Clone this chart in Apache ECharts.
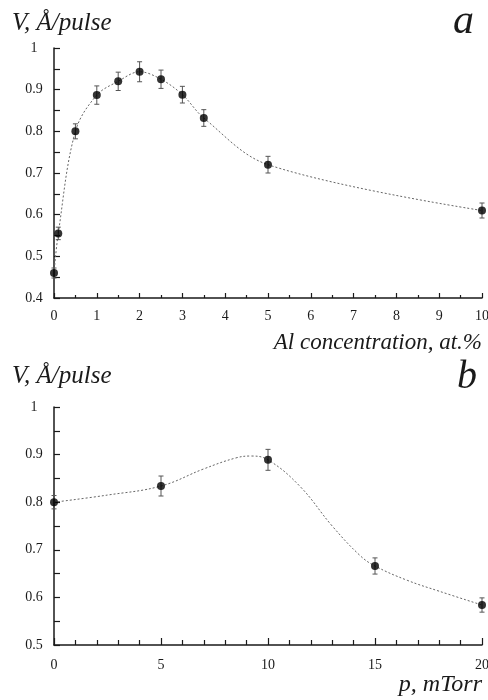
<!DOCTYPE html>
<html>
<head>
<meta charset="utf-8">
<script src="https://cdn.jsdelivr.net/npm/echarts@6/dist/echarts.min.js"></script>
<style>
  html, body { margin: 0; padding: 0; background: #fff; }
  #chart { width: 488px; height: 700px; }
</style>
</head>
<body>
<div id="chart"></div>
<script>
// panel a: growth rate vs Al concentration
const topX = [0, 0.1, 0.5, 1, 1.5, 2, 2.5, 3, 3.5, 5, 10];
const topV = [0.46, 0.555, 0.80, 0.887, 0.92, 0.943, 0.925, 0.888, 0.832, 0.72, 0.61];
const topErr = [0.012, 0.015, 0.018, 0.022, 0.022, 0.024, 0.022, 0.02, 0.02, 0.02, 0.018];

// panel b: growth rate vs pressure
const botX = [0, 5, 10, 15, 20];
const botV = [0.80, 0.834, 0.889, 0.666, 0.584];
const botErr = [0.014, 0.021, 0.022, 0.017, 0.015];
// dotted fit curve of panel b
const botFitX = [0, 2.5, 5, 7, 8.5, 9.2, 10, 11.5, 13, 14.3, 15, 16.5, 18, 20];
const botFitV = [0.80, 0.815, 0.834, 0.870, 0.893, 0.897, 0.889, 0.833, 0.750, 0.688, 0.666, 0.636, 0.613, 0.584];

const serif = '"Liberation Serif", "DejaVu Serif", serif';
const ink = '#1a1a1a';

const pair = (xs, ys) => xs.map((x, i) => [x, ys[i]]);
const triple = (xs, ys, es) => xs.map((x, i) => [x, ys[i], es[i]]);

function errorBar(params, api) {
  const x = api.value(0), y = api.value(1), e = api.value(2);
  const hi = api.coord([x, y + e]);
  const lo = api.coord([x, y - e]);
  const w = 2.5;
  const st = { stroke: '#555', lineWidth: 1 };
  return {
    type: 'group',
    children: [
      { type: 'line', shape: { x1: hi[0], y1: hi[1], x2: lo[0], y2: lo[1] }, style: st },
      { type: 'line', shape: { x1: hi[0] - w, y1: hi[1], x2: hi[0] + w, y2: hi[1] }, style: st },
      { type: 'line', shape: { x1: lo[0] - w, y1: lo[1], x2: lo[0] + w, y2: lo[1] }, style: st }
    ]
  };
}

const axisLine = { show: true, onZero: false, lineStyle: { color: ink, width: 1.5 } };
const labelStyle = { color: ink, fontFamily: serif, fontSize: 14 };

function yAxis(gridIndex, min) {
  return {
    type: 'value',
    gridIndex: gridIndex,
    min: min,
    max: 1,
    interval: 0.1,
    axisLine: axisLine,
    axisTick: { show: true, inside: true, length: 6, lineStyle: { color: ink, width: 1.2 } },
    minorTick: { show: true, splitNumber: 2, length: 6, lineStyle: { color: ink, width: 1.2 } },
    splitLine: { show: false },
    axisLabel: Object.assign({ align: 'center', margin: 20, formatter: v => String(+v.toFixed(2)) }, labelStyle)
  };
}

const chart = echarts.init(document.getElementById('chart'), null, { renderer: 'canvas' });

chart.setOption({
  animation: false,
  backgroundColor: '#fff',
  grid: [
    { left: 54, right: 6, top: 48, height: 250, outerBoundsMode: 'none' },
    { left: 54, right: 6, top: 407, height: 238, outerBoundsMode: 'none' }
  ],
  xAxis: [
    {
      type: 'value', gridIndex: 0, min: 0, max: 10, interval: 1,
      axisLine: axisLine,
      axisTick: { show: true, inside: true, length: 5, lineStyle: { color: ink, width: 1.2 } },
      minorTick: { show: true, splitNumber: 2, length: 3, lineStyle: { color: ink, width: 1.2 } },
      splitLine: { show: false },
      axisLabel: Object.assign({ margin: 11 }, labelStyle)
    },
    {
      type: 'value', gridIndex: 1, min: 0, max: 20, interval: 5,
      axisLine: axisLine,
      axisTick: { show: true, inside: true, length: 7, lineStyle: { color: ink, width: 1.2 } },
      minorTick: { show: true, splitNumber: 5, length: 5, lineStyle: { color: ink, width: 1.2 } },
      splitLine: { show: false },
      axisLabel: Object.assign({ margin: 13 }, labelStyle)
    }
  ],
  yAxis: [yAxis(0, 0.4), yAxis(1, 0.5)],
  graphic: [
    { type: 'text', left: 12, top: 11, style: { text: 'V, Å/pulse', font: 'italic 25px ' + serif, fill: ink } },
    { type: 'text', right: 14, top: 1, style: { text: 'a', font: 'italic 42px ' + serif, fill: ink } },
    { type: 'text', right: 6, top: 331, style: { text: 'Al concentration, at.%', font: 'italic 23px ' + serif, fill: ink } },
    { type: 'text', left: 12, top: 364, style: { text: 'V, Å/pulse', font: 'italic 25px ' + serif, fill: ink } },
    { type: 'text', right: 11, top: 357, style: { text: 'b', font: 'italic 40px ' + serif, fill: ink } },
    { type: 'text', right: 6, top: 673, style: { text: 'p, mTorr', font: 'italic 24px ' + serif, fill: ink } }
  ],
  series: [
    {
      type: 'line', xAxisIndex: 0, yAxisIndex: 0,
      data: pair(topX, topV), smooth: 0.35, showSymbol: false, silent: true,
      lineStyle: { color: '#666', width: 1, type: [2, 2] }, z: 1
    },
    {
      type: 'custom', xAxisIndex: 0, yAxisIndex: 0,
      data: triple(topX, topV, topErr), renderItem: errorBar, z: 2
    },
    {
      type: 'scatter', xAxisIndex: 0, yAxisIndex: 0,
      data: pair(topX, topV), symbol: 'circle', symbolSize: 8,
      itemStyle: { color: '#000' }, z: 3
    },
    {
      type: 'line', xAxisIndex: 1, yAxisIndex: 1,
      data: pair(botFitX, botFitV), smooth: 0.4, showSymbol: false, silent: true,
      lineStyle: { color: '#666', width: 1, type: [2, 2] }, z: 1
    },
    {
      type: 'custom', xAxisIndex: 1, yAxisIndex: 1,
      data: triple(botX, botV, botErr), renderItem: errorBar, z: 2
    },
    {
      type: 'scatter', xAxisIndex: 1, yAxisIndex: 1,
      data: pair(botX, botV), symbol: 'circle', symbolSize: 8,
      itemStyle: { color: '#000' }, z: 3
    }
  ]
});
</script>
</body>
</html>
